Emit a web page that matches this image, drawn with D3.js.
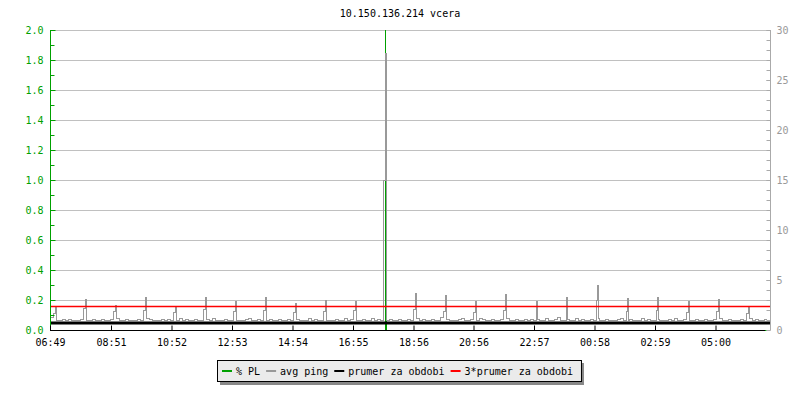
<!DOCTYPE html>
<html>
<head>
<meta charset="utf-8">
<script src="https://cdn.jsdelivr.net/npm/d3@7"></script>
<style>
  body { margin: 0; background: #fff; }
  text { font-family: 'DejaVu Sans Mono', monospace; font-size: 10px; }
</style>
</head>
<body>
<div id="chart"></div>
<script>
//
// Data
//
const title = '10.150.136.214 vcera'
const startTime = '06:49'
const xTickLabels = ['06:49', '08:51', '10:52', '12:53', '14:54', '16:55', '18:56', '20:56', '22:57', '00:58', '02:59', '05:00']
const plTickValues = [0, 0.2, 0.4, 0.6, 0.8, 1.0, 1.2, 1.4, 1.6, 1.8, 2.0]
const plMinorTicks = [0.1, 0.3, 0.5, 0.7, 0.9, 1.1, 1.3, 1.5, 1.7, 1.9]
const pingTickValues = [0, 5, 10, 15, 20, 25, 30]

// avg ping (ms), one sample every 6 minutes from 06:49
const pingBase = [
  1.2, 1.3, 1.1, 1.0, 1.0, 1.1, 1.0, 1.1, 1.0, 1.0, 1.0, 1.1, 1.2, 1.0, 1.0, 1.1, 1.0, 1.0, 1.1, 1.0,
  1.0, 1.1, 1.0, 1.2, 1.0, 1.0, 1.1, 1.0, 1.0, 1.0, 1.1, 1.0, 1.0, 1.2, 1.1, 1.0, 1.0, 1.0, 1.1, 1.0,
  1.1, 1.0, 1.0, 1.0, 1.2, 1.0, 1.1, 1.0, 1.0, 1.1, 1.0, 1.0, 1.0, 1.1, 1.0, 1.2, 1.0, 1.0, 1.0, 1.1,
  1.0, 1.0, 1.1, 1.0, 1.0, 1.0, 1.1, 1.2, 1.0, 1.0, 1.1, 1.0, 1.0, 1.0, 1.1, 1.0, 1.0, 1.1, 1.0, 1.0,
  1.1, 1.0, 1.0, 1.1, 1.0, 1.0, 1.0, 1.2, 1.0, 1.1, 1.0, 1.0, 1.1, 1.0, 1.0, 1.0, 1.1, 1.0, 1.0, 1.2,
  1.0, 1.1, 1.0, 1.0, 1.0, 1.1, 1.0, 1.0, 1.2, 1.0, 1.1, 1.0, 1.0, 1.0, 1.1, 1.0, 1.0, 1.1, 1.0, 1.0,
  1.1, 1.0, 1.0, 1.2, 1.0, 1.1, 1.0, 1.0, 1.1, 1.0, 1.0, 1.3, 1.0, 1.1, 1.0, 1.0, 1.0, 1.1, 1.2, 1.0,
  1.0, 1.1, 1.0, 1.0, 1.2, 1.1, 1.0, 1.0, 1.1, 1.0, 1.0, 1.1, 1.0, 1.2, 1.0, 1.0, 1.1, 1.0, 1.0, 1.1,
  1.0, 1.1, 1.0, 1.1, 1.0, 1.0, 1.2, 1.0, 1.0, 1.1, 1.3, 1.0, 1.0, 1.1, 1.0, 1.0, 1.2, 1.0, 1.1, 1.0,
  1.0, 1.1, 1.0, 1.2, 1.0, 1.0, 1.1, 1.0, 1.0, 1.0, 1.1, 1.2, 1.0, 1.0, 1.1, 1.0, 1.0, 1.0, 1.2, 1.0,
  1.1, 1.0, 1.0, 1.1, 1.0, 1.0, 1.0, 1.1, 1.0, 1.2, 1.0, 1.0, 1.1, 1.0, 1.0, 1.0, 1.1, 1.0, 1.0, 1.1,
  1.0, 1.0, 1.1, 1.0, 1.2, 1.0, 1.0, 1.1, 1.0, 1.0, 1.0, 1.1, 1.0, 1.0, 1.2, 1.0, 1.1, 1.0, 1.0, 1.1
]
const pingStepMinutes = 6

// hourly ping spikes (peak, and the shorter sample just before it)
const spikeTimes = ['07:01', '08:01', '09:01', '10:01', '11:01', '12:01', '13:01', '14:01', '15:01', '16:01', '17:01', '18:01',
  '19:01', '20:01', '21:01', '22:01', '23:03', '00:03', '01:05', '02:05', '03:05', '04:07', '05:07', '06:07']
const spikePeaks = [2.4, 3.1, 2.5, 3.3, 2.3, 3.3, 2.9, 3.3, 2.7, 3.0, 2.9, 27.7,
  3.7, 3.5, 2.9, 3.6, 2.9, 3.3, 4.5, 3.2, 3.3, 2.9, 3.1, 2.4]
const spikeShoulders = [1.7, 2.2, 1.9, 2.0, 1.8, 2.1, 1.9, 2.0, 1.8, 1.9, 2.0, 15.0,
  2.1, 1.9, 1.8, 2.0, 1.8, 1.9, 3.0, 1.9, 2.0, 1.8, 1.9, 1.7]

// % packet loss
const plTimes = ['06:49', '17:59', '18:00', '18:01', '18:02', '18:03', '06:48']
const plValues = [0, 0, 2.0, 1.0, 0.12, 0, 0]

// period averages (ms)
const prumer = 0.7
const prumer3 = 2.4

const legendLabels = ['% PL', 'avg ping', 'prumer za obdobi', '3*prumer za obdobi']
const legendColors = ['#00a000', '#999999', '#000000', '#ff0000']

//
// Layout
//
const width = 800
const height = 400
const mLeft = 50
const mRight = 770
const mTop = 30
const mBottom = 330

const base = new Date(2024, 0, 1, 6, 49).getTime()
const startMins = +startTime.slice(0, 2) * 60 + +startTime.slice(3)
function toDate (hhmm) {
  let mins = +hhmm.slice(0, 2) * 60 + +hhmm.slice(3) - startMins
  if (mins < 0) mins += 1440
  return new Date(base + mins * 60000)
}

const x = d3.scaleTime().domain([new Date(base), new Date(base + 1440 * 60000)]).range([mLeft, mRight])
const yL = d3.scaleLinear().domain([0, 2]).range([mBottom, mTop])
const yR = d3.scaleLinear().domain([0, 30]).range([mBottom, mTop])

// ping points: base samples + spikes
const spikeDates = spikeTimes.map(toDate)
const pingPoints = pingBase
  .map((v, i) => ({ t: new Date(base + i * pingStepMinutes * 60000), v }))
  .filter(p => !spikeDates.some(s => Math.abs(s - p.t) <= 60000))
spikeDates.forEach((s, i) => {
  pingPoints.push({ t: new Date(s.getTime() - 60000), v: spikeShoulders[i] })
  pingPoints.push({ t: s, v: spikePeaks[i] })
})
pingPoints.sort((a, b) => a.t - b.t)

const plPoints = plTimes.map((t, i) => ({ t: toDate(t), v: plValues[i] }))
plPoints[plPoints.length - 1].t = new Date(base + 1440 * 60000)

const svg = d3.select('#chart')
  .append('svg')
  .attr('width', width)
  .attr('height', height)

// Title
svg.append('text')
  .attr('x', 400)
  .attr('y', 17)
  .attr('text-anchor', 'middle')
  .attr('fill', '#000')
  .text(title)

// Gridlines
svg.append('g')
  .selectAll('line')
  .data(plTickValues.filter(d => d > 0))
  .join('line')
  .attr('x1', mLeft)
  .attr('x2', mRight)
  .attr('y1', d => Math.round(yL(d)) + 0.5)
  .attr('y2', d => Math.round(yL(d)) + 0.5)
  .attr('stroke', '#c0c0c0')

// % PL
svg.append('path')
  .datum(plPoints)
  .attr('fill', 'none')
  .attr('stroke', '#00a000')
  .attr('stroke-width', 1)
  .attr('shape-rendering', 'crispEdges')
  .attr('d', d3.line().curve(d3.curveStepBefore).x(d => x(d.t)).y(d => yL(d.v)))

// avg ping
svg.append('path')
  .datum(pingPoints)
  .attr('fill', 'none')
  .attr('stroke', '#999999')
  .attr('stroke-width', 1)
  .attr('shape-rendering', 'crispEdges')
  .attr('d', d3.line().curve(d3.curveStepBefore).x(d => x(d.t)).y(d => yR(d.v)))

// period averages
svg.append('line')
  .attr('x1', mLeft).attr('x2', mRight)
  .attr('y1', yR(prumer)).attr('y2', yR(prumer))
  .attr('stroke', '#000').attr('stroke-width', 3)
svg.append('line')
  .attr('x1', mLeft).attr('x2', mRight)
  .attr('y1', Math.round(yR(prumer3)) + 0.5).attr('y2', Math.round(yR(prumer3)) + 0.5)
  .attr('stroke', '#ff0000').attr('stroke-width', 1.3)

// Left axis (% PL)
const gL = svg.append('g')
  .attr('transform', `translate(${mLeft + 0.5},0)`)
  .call(d3.axisLeft(yL).tickValues(plTickValues).tickFormat(d3.format('.1f')).tickSize(-5).tickSizeOuter(0).tickPadding(7))
gL.append('g')
  .call(d3.axisLeft(yL).tickValues(plMinorTicks).tickFormat('').tickSize(-4).tickSizeOuter(0))
gL.selectAll('path').remove()
gL.selectAll('line').attr('stroke', '#00a000')
gL.selectAll('text').attr('fill', '#00a000').style('font-size', '10px').style('font-family', 'DejaVu Sans Mono')
gL.append('line').attr('y1', mTop).attr('y2', mBottom).attr('stroke', '#00a000')

// Right axis (ping)
const gR = svg.append('g')
  .attr('transform', `translate(${mRight + 0.5},0)`)
  .call(d3.axisRight(yR).tickValues(pingTickValues).tickSize(-4).tickSizeOuter(0).tickPadding(6))
gR.append('g')
  .call(d3.axisRight(yR).ticks(30).tickFormat('').tickSize(-4).tickSizeOuter(0))
gR.selectAll('path').remove()
gR.selectAll('line').attr('stroke', '#aaaaaa')
gR.selectAll('text').attr('fill', '#999999').style('font-size', '10px').style('font-family', 'DejaVu Sans Mono')
gR.append('line').attr('y1', mTop).attr('y2', mBottom).attr('stroke', '#aaaaaa')

// Bottom axis (time)
const gB = svg.append('g')
  .attr('transform', `translate(0,${mBottom + 0.5})`)
  .call(d3.axisBottom(x).tickValues(xTickLabels.map(toDate)).tickFormat(d3.timeFormat('%H:%M')).tickSize(-5).tickSizeOuter(0).tickPadding(8))
gB.selectAll('path').remove()
gB.selectAll('line').attr('stroke', '#000')
gB.selectAll('text').attr('fill', '#000').style('font-size', '10px').style('font-family', 'DejaVu Sans Mono')
gB.append('line').attr('x1', mLeft).attr('x2', mRight - 5).attr('stroke', '#000')

// Legend
const legend = svg.append('g')
const boxX = 217
const boxY = 360
const shadow = legend.append('rect')
const box = legend.append('rect')
let cx = boxX + 5
legendLabels.forEach((label, i) => {
  legend.append('line')
    .attr('x1', cx).attr('x2', cx + 10)
    .attr('y1', boxY + 11).attr('y2', boxY + 11)
    .attr('stroke', legendColors[i]).attr('stroke-width', 2)
  const t = legend.append('text')
    .attr('x', cx + 14)
    .attr('y', boxY + 14.5)
    .attr('fill', '#000')
    .text(label)
  cx += 14 + t.node().getComputedTextLength() + 6
})
const boxW = cx - boxX + 2
shadow.attr('x', boxX + 3).attr('y', boxY + 3).attr('width', boxW).attr('height', 22).attr('fill', '#888888')
box.attr('x', boxX + 0.5).attr('y', boxY + 0.5).attr('width', boxW).attr('height', 21)
  .attr('fill', '#ebebeb').attr('stroke', '#000')
</script>
</body>
</html>
